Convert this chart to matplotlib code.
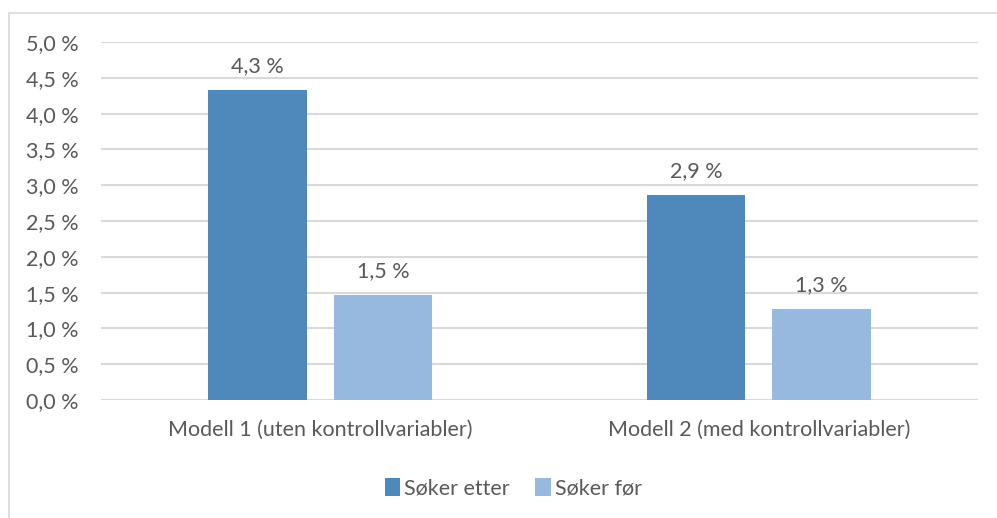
import numpy as np
import matplotlib
matplotlib.use("Agg")
import matplotlib.pyplot as plt
from matplotlib.patches import Rectangle

categories = ["Modell 1 (uten kontrollvariabler)", "Modell 2 (med kontrollvariabler)"]
series_names = ["Søker etter", "Søker før"]
soker_etter = [4.33, 2.87]
soker_for = [1.47, 1.27]
yticks = np.arange(0, 5.01, 0.5)

plt.rcParams['font.family'] = ['Lato', 'DejaVu Sans']
txt = "#595959"
fs = 15.5

fig = plt.figure(figsize=(9.97, 5.18), dpi=100)
ax = fig.add_axes([0.1013, 0.2278, 0.8797, 0.6911])

# kant rundt diagrammet
fig.patches.append(Rectangle((9/997, -0.1), 1.2, 1 - 13/518 + 0.1, transform=fig.transFigure,
                             fill=False, edgecolor="#d9d9d9", linewidth=1.2))

x = np.arange(len(categories))
w = 0.224
off = 0.1429
b1 = ax.bar(x - off, soker_etter, w, color="#4f88bb", label=series_names[0], zorder=3)
b2 = ax.bar(x + off, soker_for, w, color="#98b9df", label=series_names[1], zorder=3)

for bars in (b1, b2):
    for r in bars:
        v = r.get_height()
        ax.text(r.get_x() + r.get_width()/2, v + 0.19, ("%.1f %%" % v).replace(".", ","),
                ha="center", va="bottom", fontsize=fs, color=txt)

ax.set_xlim(-0.5, 1.5)
ax.set_ylim(0, 5)
ax.set_yticks(yticks)
ax.set_yticklabels([("%.1f %%" % t).replace(".", ",") for t in yticks])
ax.set_xticks(x)
ax.set_xticklabels(categories)
ax.tick_params(axis="both", length=0, labelsize=fs, colors=txt)
ax.tick_params(axis="y", pad=16)
ax.tick_params(axis="x", pad=14)
ax.grid(axis="y", color="#d9d9d9", linewidth=1.5, zorder=0)
for s in ax.spines.values():
    s.set_visible(False)

ax.legend(loc="upper center", bbox_to_anchor=(0.47, -0.165), ncol=2, frameon=False,
          fontsize=fs, labelcolor=txt, handlelength=0.7, handleheight=0.9,
          handletextpad=0.2, columnspacing=1.2)

plt.savefig("out.png", dpi=100)
